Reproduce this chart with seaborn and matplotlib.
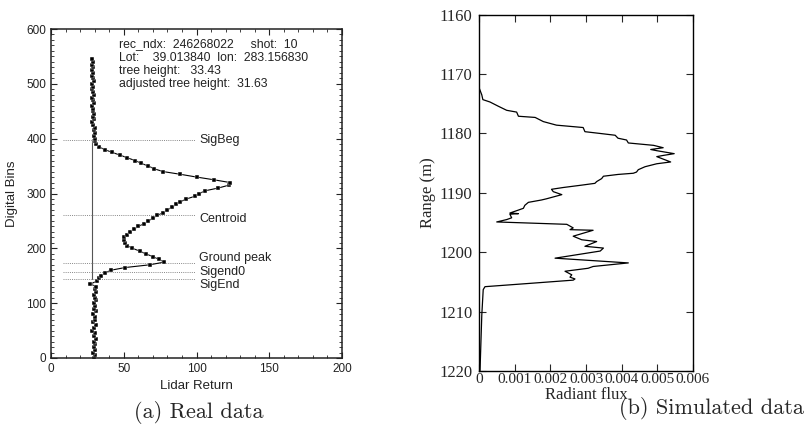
import numpy as np
import pandas as pd
import matplotlib
matplotlib.use("Agg")
import matplotlib.pyplot as plt
import seaborn as sns
from matplotlib.ticker import MultipleLocator

# ---- data: panel (a) real lidar waveform ----
bins = list(range(0, 550, 5))
lidar_return = [
    29.5, 30.0, 29.0, 30.5, 29.8, 30.2, 29.4, 30.8, 29.6, 30.0,   # 0-45
    28.5, 29.8, 30.6, 28.8, 29.9, 30.4, 29.2, 30.7, 29.5, 30.3,   # 50-95
    29.7, 30.9, 30.1, 29.6, 31.0, 30.4, 31.2, 27.0, 31.5, 33.0,   # 100-145
    34.5, 37.0, 41.0, 51.0, 68.0, 78.0, 74.0, 70.0, 65.0, 61.0,   # 150-195
    56.0, 52.5, 51.0, 50.0, 50.5, 52.0, 54.0, 57.0, 60.0, 64.0,   # 200-245
    67.0, 70.0, 73.0, 77.0, 80.0, 83.0, 86.0, 89.0, 93.0, 99.0,   # 250-295
    102.0, 106.0, 115.0, 122.0, 123.0, 112.0, 100.0, 89.0, 77.0, 71.0,  # 300-345
    67.0, 62.0, 58.0, 52.5, 47.5, 42.0, 37.0, 33.0, 31.0, 30.5,   # 350-395
    30.0, 29.5, 30.2, 29.5, 30.0, 29.0, 28.5, 29.3, 28.8, 29.5,   # 400-445
    28.7, 29.2, 28.5, 29.8, 29.0, 28.4, 29.5, 28.8, 28.2, 29.0,   # 450-495
    28.5, 29.3, 28.6, 28.1, 28.9, 28.3, 28.8, 28.2, 29.0, 28.5,   # 500-545
]
marker_names = ["SigBeg", "Centroid", "Ground peak", "Sigend0", "SigEnd"]
marker_bins = [398, 261, 174, 156, 144]
marker_label_y = [398, 254, 182, 157, 133]
info_lines = [
    "rec_ndx:  246268022     shot:  10",
    "Lot:    39.013840  lon:  283.156830",
    "tree height:   33.43",
    "adjusted tree height:  31.63",
]
info_y = [573, 548, 523, 500]

# ---- data: panel (b) simulated waveform ----
flux = [
    0.0, 0.00007, 0.0001, 0.0003, 0.00053, 0.00077, 0.00105, 0.0011, 0.00157, 0.0018,
    0.00217, 0.00292, 0.00297, 0.0034, 0.00382, 0.0039, 0.00414, 0.00419, 0.0049, 0.00517,
    0.00482, 0.00499, 0.00548, 0.00517, 0.00499, 0.00538, 0.00499, 0.00466, 0.00447, 0.00442,
    0.00433, 0.0039, 0.00349, 0.00344, 0.0033, 0.00325, 0.00288, 0.00236, 0.00203, 0.00208,
    0.00232, 0.00189, 0.00175, 0.00138, 0.00128, 0.00124, 0.0011, 0.00086, 0.0011, 0.00086,
    0.00091, 0.00077, 0.00049, 0.00246, 0.00264, 0.00255, 0.0032, 0.00264, 0.00288, 0.0033,
    0.00297, 0.00349, 0.0034, 0.00213, 0.00419, 0.0032, 0.00306, 0.00241, 0.0026, 0.00255,
    0.00269, 0.00264, 0.00152, 0.00016, 0.00011, 0.00007, 0.00002,
]
range_m = [
    1172.4, 1173.5, 1174.3, 1174.7, 1175.4, 1176.1, 1176.4, 1177.1, 1177.3, 1178.0,
    1178.6, 1179.0, 1179.7, 1180.0, 1180.3, 1180.8, 1181.1, 1181.6, 1182.0, 1182.4,
    1182.7, 1182.9, 1183.4, 1183.7, 1183.9, 1184.8, 1185.1, 1185.6, 1186.1, 1186.5,
    1186.7, 1186.9, 1187.2, 1187.6, 1188.1, 1188.4, 1188.7, 1189.1, 1189.4, 1189.8,
    1190.3, 1191.0, 1191.2, 1191.6, 1192.1, 1192.6, 1192.9, 1193.4, 1193.5, 1193.6,
    1194.2, 1194.5, 1194.9, 1195.3, 1195.9, 1196.2, 1196.3, 1197.3, 1197.9, 1198.2,
    1199.0, 1199.3, 1199.8, 1201.0, 1201.8, 1202.4, 1202.7, 1203.2, 1203.8, 1204.2,
    1204.5, 1204.7, 1205.2, 1205.8, 1206.3, 1210.6, 1220.0,
]
flux_ticks = [0, 0.001, 0.002, 0.003, 0.004, 0.005, 0.006]
flux_ticklabels = ["0", "0.001", "0.002", "0.003", "0.004", "0.005", "0.006"]
range_ticks = [1160, 1170, 1180, 1190, 1200, 1210, 1220]

sns.set_style("ticks")
plt.rcParams["font.family"] = ["Liberation Sans", "DejaVu Sans"]

fig = plt.figure(figsize=(8.09, 4.30), dpi=100)
fig.patch.set_facecolor("white")

# ---------------- panel (a) ----------------
axa = fig.add_axes([51 / 809, 72 / 430, 291 / 809, 329 / 430])
dfa = pd.DataFrame({"ret": lidar_return, "bin": bins})
sns.lineplot(data=dfa, x="ret", y="bin", sort=False, estimator=None, ax=axa,
             color="black", linewidth=0.8, marker="s", markersize=2.2,
             markeredgewidth=0.3)
axa.plot([28.5, 28.5], [144, 400], color="#555555", linewidth=0.8, zorder=1)
for name, yb, yl in zip(marker_names, marker_bins, marker_label_y):
    axa.plot([8, 99], [yb, yb], color="#888888", linestyle=(0, (1, 1.2)),
             linewidth=0.7, zorder=1)
    axa.text(102, yl, name, fontsize=9, va="center", ha="left", color="#222222")
for line, yv in zip(info_lines, info_y):
    axa.text(47, yv, line, fontsize=8.8, va="center", ha="left", color="#222222")

axa.set_xlim(0, 200)
axa.set_ylim(0, 600)
axa.xaxis.set_major_locator(MultipleLocator(50))
axa.xaxis.set_minor_locator(MultipleLocator(10))
axa.yaxis.set_major_locator(MultipleLocator(100))
axa.yaxis.set_minor_locator(MultipleLocator(10))
axa.tick_params(which="both", direction="in", top=True, right=True, colors="#222222",
                labelsize=8.5)
axa.tick_params(which="major", length=4, width=0.8)
axa.tick_params(which="minor", length=2.2, width=0.6)
for s in axa.spines.values():
    s.set_linewidth(1.1)
    s.set_color("#222222")
axa.set_xlabel("Lidar Return", fontsize=9.5, color="#222222", labelpad=4)
axa.set_ylabel("Digital Bins", fontsize=9.5, color="#222222", labelpad=6)

# ---------------- panel (b) ----------------
axb = fig.add_axes([479.3 / 809, 59 / 430, 213.4 / 809, 356.3 / 430])
dfb = pd.DataFrame({"flux": flux, "range": range_m})
sns.lineplot(data=dfb, x="flux", y="range", sort=False, estimator=None, ax=axb,
             color="black", linewidth=0.9)
axb.set_xlim(0, 0.006)
axb.set_ylim(1220, 1160)
axb.set_xticks(flux_ticks)
axb.set_xticklabels(flux_ticklabels)
axb.set_yticks(range_ticks)
serif = ["Liberation Serif", "DejaVu Serif"]
for lab in axb.get_xticklabels():
    lab.set_family(serif)
    lab.set_fontsize(11)
for lab in axb.get_yticklabels():
    lab.set_family(serif)
    lab.set_fontsize(12)
axb.tick_params(which="major", direction="in", top=True, right=True, length=5,
                width=0.8, pad=1.5)
axb.tick_params(axis="y", pad=5)
for s in axb.spines.values():
    s.set_linewidth(1.0)
    s.set_color("black")
axb.set_xlabel("Radiant flux", family=serif, fontsize=12, labelpad=1)
axb.set_ylabel("Range (m)", family=serif, fontsize=12, labelpad=2)

# ---------------- captions ----------------
cap = ["cmr10", "DejaVu Serif"]
fig.text(199 / 809, 1 - 413 / 430, "(a) Real data", family=cap, fontsize=16,
         ha="center", va="center")
fig.text(711 / 809, 1 - 409 / 430, "(b) Simulated data", family=cap, fontsize=16,
         ha="center", va="center")

fig.savefig("out.png", dpi=100, facecolor="white")
